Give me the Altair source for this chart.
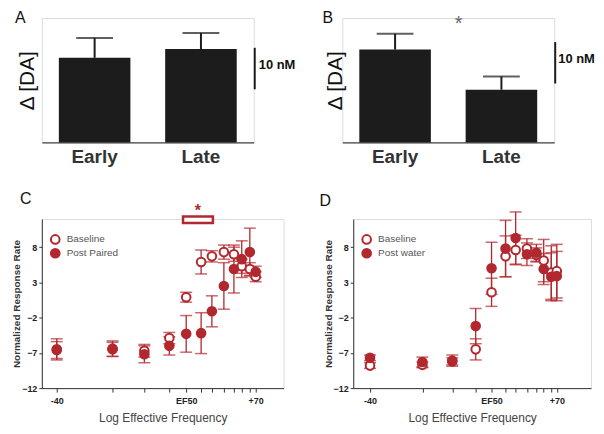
import altair as alt
import pandas as pd

RED = "#b1282e"
BAR = "#1c1c1c"
FONT = "Liberation Sans"

# ---- Panels A and B (bar charts) ----
conditions = ["Early", "Late"]
a_mean = [20.4, 22.5]
a_sem = [4.8, 3.9]
b_mean = [22.4, 12.7]
b_sem = [3.8, 3.2]
a_scalebar = [12.8, 22.8]
b_scalebar = [14.2, 24.2]
scalebar_label = "10 nM"

# ---- Panels C and D (frequency curves) ----
freq_pos = [7.3, 30.1, 43.1, 53.3, 60.2, 66.3, 70.7, 75.6, 79.7, 82.9, 86.2, 88.6]
freq_labels = ["-40", "", "", "", "EF50", "", "", "", "", "", "", "+70"]
rate_ticks = [-12, -7, -2, 3, 8]

c_series = ["Baseline", "Post Paired"]
c_base = [-6.6, -6.5, -6.7, -4.9, 0.9, 5.9, 6.7, 7.3, 7.0, 5.3, 4.9, 3.8]
c_base_err = [1.2, 1.0, 0.9, 0.8, 0.7, 1.7, 0.8, 1.0, 1.0, 1.0, 0.9, 0.7]
c_post = [-6.5, -6.4, -7.2, -6.0, -4.3, -4.2, -1.1, 2.5, 4.9, 6.3, 7.3, 4.5]
c_post_err = [1.5, 1.1, 1.2, 1.3, 2.6, 2.9, 2.2, 3.3, 3.4, 2.6, 3.4, 0.8]
c_sig_x = [58.9, 71.1]
c_sig_y = [11.44, 12.36]
c_star = [65.0, 12.4]

d_series = ["Baseline", "Post water"]
d_base = [-8.8, -8.7, -8.2, -6.5, 1.6, 6.7, 7.6, 7.8, 6.9, 6.1, 4.4, 4.6]
d_base_err = [0.4, 0.4, 0.5, 1.5, 2.0, 2.9, 2.1, 1.4, 1.0, 3.0, 3.8, 3.8]
d_post = [-7.7, -8.3, -8.1, -3.2, 5.0, 7.8, 9.3, 7.0, 7.2, 4.9, 3.8, 3.9]
d_post_err = [0.4, 0.7, 0.8, 2.5, 3.7, 4.0, 3.7, 1.6, 1.2, 2.2, 3.4, 3.5]


def tag(letter, x, y):
    return alt.Chart(pd.DataFrame({"tag": [letter]})).mark_text(
        align="left", baseline="alphabetic", fontSize=16, font=FONT, color="#111"
    ).encode(text="tag:N", x=alt.value(x), y=alt.value(y))


def bar_panel(letter, means, sems, scalebar, title_pad, letter_xy, sb_x, sb_text_x,
              star_xy=None, spacer_x=None):
    df = pd.DataFrame({"condition": conditions, "mean": means,
                       "upper": [m + s for m, s in zip(means, sems)]})
    sb = pd.DataFrame({"lo": [scalebar[0]], "hi": [scalebar[1]],
                       "mid": [(scalebar[0] + scalebar[1]) / 2], "label": [scalebar_label]})
    xax = alt.Axis(title=None, labelAngle=0, labelFont=FONT, labelFontSize=19,
                   labelFontWeight="bold", labelColor="#333", labelPadding=5, ticks=False,
                   domainColor="#444", domainWidth=1.3, grid=False)
    xs = alt.Scale(paddingInner=0.327, paddingOuter=0.16)
    yax = alt.Axis(title="Δ [DA]", titleFont=FONT, titleFontSize=21, titleFontWeight="normal",
                   titleColor="#111", titlePadding=title_pad, domain=False, ticks=False,
                   labels=False, grid=False)
    ys = alt.Scale(domain=[0, 30], nice=False)

    def X():
        return alt.X("condition:N", sort=conditions, scale=xs, axis=xax)

    base = alt.Chart(df)
    bars = base.mark_bar(color=BAR).encode(x=X(), y=alt.Y("mean:Q", scale=ys, axis=yax))
    whisker = base.mark_rule(color=BAR, strokeWidth=2).encode(
        x=X(), y=alt.Y("mean:Q", scale=ys, axis=yax), y2="upper:Q")
    cap = base.mark_tick(color=BAR, thickness=2, size=37, orient="horizontal").encode(
        x=X(), y=alt.Y("upper:Q", scale=ys, axis=yax))
    sbar = alt.Chart(sb).mark_rule(color=BAR, strokeWidth=2).encode(
        x=alt.value(sb_x), y=alt.Y("lo:Q", scale=ys, axis=yax), y2="hi:Q")
    sbtext = alt.Chart(sb).mark_text(align="left", baseline="middle", font=FONT, fontSize=13,
                                     fontWeight="bold", color="#111", dy=-4).encode(
        x=alt.value(sb_text_x), y=alt.Y("mid:Q", scale=ys, axis=yax), text="label:N")
    layers = [whisker, cap, bars, sbar, sbtext, tag(letter, *letter_xy)]
    if star_xy is not None:
        layers.append(alt.Chart(pd.DataFrame({"s": ["*"]})).mark_text(
            align="center", baseline="alphabetic", fontSize=20, font=FONT, color="#666"
        ).encode(text="s:N", x=alt.value(star_xy[0]), y=alt.value(star_xy[1])))
    if spacer_x is not None:
        layers.append(alt.Chart(pd.DataFrame({"s": ["."]})).mark_text(
            align="left", fontSize=8, opacity=0).encode(
            text="s:N", x=alt.value(spacer_x), y=alt.value(0)))
    return alt.layer(*layers).properties(width=213, height=125)


def curve_panel(letter, letter_xy, series, base_v, base_e, post_v, post_e, xdomain, width,
                legend_xy, sig=False):
    rows = []
    for name, vals, errs in ((series[0], base_v, base_e), (series[1], post_v, post_e)):
        for f, v, e in zip(freq_pos, vals, errs):
            rows.append({"freq": f, "series": name, "rate": v, "lo": v - e, "hi": v + e})
    df = pd.DataFrame(rows)
    caps = pd.concat([df.assign(cap=df["lo"]), df.assign(cap=df["hi"])], ignore_index=True)

    label_expr = " : ".join(
        f"datum.value == {p} ? '{t}'" for p, t in zip(freq_pos, freq_labels) if t) + " : ''"
    xax = alt.Axis(values=freq_pos, labelExpr=label_expr, title="Log Effective Frequency",
                   grid=False, tickSize=4, tickColor="#333", domainColor="#333",
                   labelFont=FONT, labelFontSize=9, labelFontWeight="bold", labelColor="#222",
                   labelPadding=4, titleFont=FONT, titleFontSize=12, titleFontWeight="normal",
                   titleColor="#444", titlePadding=8, labelFlush=False)
    xs = alt.Scale(domain=xdomain, nice=False, zero=False)
    yax = alt.Axis(values=rate_ticks, title="Normalized Response Rate", grid=False, tickSize=3,
                   tickColor="#333", domainColor="#333", labelFont=FONT, labelFontSize=9,
                   labelFontWeight="bold", labelColor="#222", labelPadding=2,
                   titleFont=FONT, titleFontSize=10, titleFontWeight="bold", titleColor="#333",
                   titlePadding=0)
    ys = alt.Scale(domain=[-12, 12], nice=False)

    def X(field="freq"):
        return alt.X(f"{field}:Q", scale=xs, axis=xax)

    def Y(field):
        return alt.Y(f"{field}:Q", scale=ys, axis=yax)

    rules = alt.Chart(df).mark_rule(color=RED, strokeWidth=1.3).encode(
        x=X(), y=Y("lo"), y2="hi:Q")
    ticks = alt.Chart(caps).mark_tick(color=RED, thickness=1.5, size=12,
                                      orient="horizontal").encode(x=X(), y=Y("cap"))
    pts = alt.Chart(df).mark_circle(size=75, stroke=RED, strokeWidth=2, opacity=1).encode(
        x=X(), y=Y("rate"),
        fill=alt.Fill("series:N", scale=alt.Scale(domain=series, range=["white", RED]),
                      legend=alt.Legend(title=None, orient="none", legendX=legend_xy[0],
                                        legendY=legend_xy[1], labelFont=FONT, labelFontSize=10,
                                        labelColor="#555", symbolType="circle", symbolSize=75,
                                        symbolStrokeColor=RED, symbolStrokeWidth=2,
                                        rowPadding=-3, labelOffset=6, padding=0)))
    layers = [rules, ticks, pts]
    if sig:
        sdf = pd.DataFrame({"x1": [c_sig_x[0]], "x2": [c_sig_x[1]],
                            "y1": [c_sig_y[0]], "y2": [c_sig_y[1]],
                            "sx": [c_star[0]], "sy": [c_star[1]], "s": ["*"]})
        layers.append(alt.Chart(sdf).mark_rect(fill="white", stroke=RED, strokeWidth=2.5).encode(
            x=X("x1"), x2="x2:Q", y=Y("y1"), y2="y2:Q"))
        layers.append(alt.Chart(sdf).mark_text(baseline="alphabetic", fontSize=16,
                                              fontWeight="bold", font=FONT, color=RED).encode(
            x=X("sx"), y=Y("sy"), text="s:N"))
    layers.append(tag(letter, *letter_xy))
    return alt.layer(*layers).properties(width=width, height=170)


A = bar_panel("A", a_mean, a_sem, a_scalebar, title_pad=4, letter_xy=(-27, 4.7),
              sb_x=214, sb_text_x=218, spacer_x=-33)
B = bar_panel("B", b_mean, b_sem, b_scalebar, title_pad=-3, letter_xy=(-20, 5.3),
              sb_x=214, sb_text_x=217, star_xy=(117, 12))
C = curve_panel("C", (-22, -15), c_series, c_base, c_base_err, c_post, c_post_err,
                [1.2, 100], 243, (8, 15), sig=True)
D = curve_panel("D", (-34, -13), d_series, d_base, d_base_err, d_post, d_post_err,
                [0, 103.5], 239, (8, 15))

top = alt.hconcat(A, B, spacing=25)
bottom = alt.hconcat(C, D, spacing=34).resolve_scale(fill="independent").resolve_legend(fill="independent")
chart = alt.vconcat(top, bottom, spacing=23).properties(padding=0).configure_view(
    strokeWidth=0).configure(font=FONT)

chart.save("out.html", embed_options={"renderer": "svg", "actions": False})
